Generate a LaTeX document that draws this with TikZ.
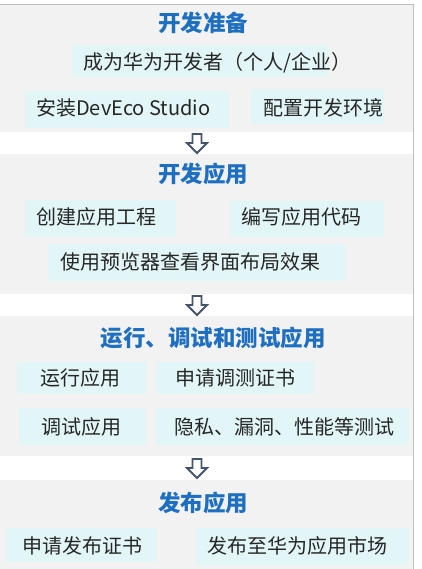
\documentclass[tikz,border=0pt]{standalone}
\usepackage{fontspec}
\setmainfont{Noto Sans CJK SC}
\definecolor{greybg}{HTML}{F2F2F2}
\definecolor{borderc}{HTML}{BFBFBF}
\definecolor{boxfill}{HTML}{E2F6F8}
\definecolor{titleblue}{HTML}{1F6FC1}
\definecolor{txt}{HTML}{262626}
\definecolor{arrowc}{HTML}{44546A}
\tikzset{
  sect/.style={fill=greybg, draw=none},
  boxbg/.style={fill=boxfill, draw=none},
  ttl/.style={font=\fontsize{22.5}{26}\selectfont\bfseries, text=titleblue, inner sep=0pt},
  lbl/.style={font=\fontsize{20}{24}\selectfont, text=txt, inner sep=0pt, anchor=west},
  blockarrow/.style={draw=arrowc, fill=white, line width=1.8pt, line join=miter},
}
\newcommand{\blockdown}[1]{%
  \draw[blockarrow] ($(#1)+(-4.5,0)$) -- ($(#1)+(4.5,0)$) -- ($(#1)+(4.5,9)$) -- ($(#1)+(10,9)$) -- ($(#1)+(0,19)$) -- ($(#1)+(-10,9)$) -- ($(#1)+(-4.5,9)$) -- cycle;}
\usetikzlibrary{calc}
\begin{document}
\begin{tikzpicture}[x=1pt,y=-1pt]
\useasboundingbox (0,0) rectangle (421,569);
\fill[white] (0,0) rectangle (421,569);
% sections
\fill[sect] (0,5) rectangle (413,132);
\fill[sect] (0,154) rectangle (413,294);
\fill[sect] (0,316) rectangle (413,456);
\fill[sect] (0,480) rectangle (413,569);
\draw[borderc, line width=1pt] (0,5) -- (413,5) -- (413,569);
% section 1
\node[ttl] (t1) at (203,23) {开发准备};
\fill[boxbg] (72,45) rectangle (329,77);
\node[lbl] (b11) at (83,63) {成为华为开发者（个人/企业）};
\fill[boxbg] (25,91) rectangle (229,128);
\node[lbl] (b12) at (36,108) {安装DevEco Studio};
\fill[boxbg] (251,89) rectangle (384,124);
\node[lbl] (b13) at (263,108) {配置开发环境};
% arrow 1
\coordinate (a1) at (197,134);
\blockdown{a1}
% section 2
\node[ttl] (t2) at (203,174) {开发应用};
\fill[boxbg] (25,200) rectangle (176,237);
\node[lbl] (b21) at (36,217) {创建应用工程};
\fill[boxbg] (230,201) rectangle (384,237);
\node[lbl] (b22) at (241,217) {编写应用代码};
\fill[boxbg] (48,244) rectangle (346,281);
\node[lbl] (b23) at (60,262) {使用预览器查看界面布局效果};
% arrow 2
\coordinate (a2) at (197,296);
\blockdown{a2}
% section 3
\node[ttl] (t3) at (213,338) {运行、调试和测试应用};
\fill[boxbg] (17,362) rectangle (146,394);
\node[lbl] (b31) at (40,378) {运行应用};
\fill[boxbg] (156,362) rectangle (314,394);
\node[lbl] (b32) at (175,378) {申请调测证书};
\fill[boxbg] (19,408) rectangle (146,445);
\node[lbl] (b33) at (41,427) {调试应用};
\fill[boxbg] (156,408) rectangle (409,445);
\node[lbl] (b34) at (174,427) {隐私、漏洞、性能等测试};
% arrow 3
\coordinate (a3) at (197,459);
\blockdown{a3}
% section 4
\node[ttl] (t4) at (203,503) {发布应用};
\fill[boxbg] (6,528) rectangle (157,562);
\node[lbl] (b41) at (22,546) {申请发布证书};
\fill[boxbg] (196,528) rectangle (409,565);
\node[lbl] (b42) at (207,546) {发布至华为应用市场};
\end{tikzpicture}
\end{document}
